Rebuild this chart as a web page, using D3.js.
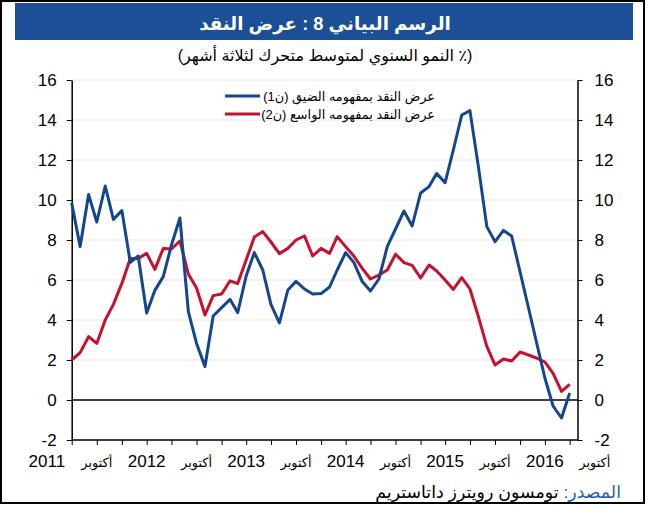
<!DOCTYPE html>
<html>
<head>
<meta charset="utf-8">
<script src="https://cdn.jsdelivr.net/npm/d3@7"></script>
<style>
  body { margin: 0; background: #fff; }
  text { font-family: "Liberation Sans", Arial, "DejaVu Sans", sans-serif; }
</style>
</head>
<body>
<div id="chart"></div>
<script>
// months Jul 2011 .. Jul 2016
const firstMonth = "2011-07";
const narrowMoney = [9.85, 7.67, 10.27, 8.9, 10.7, 9.03, 9.47, 6.88, 7.2, 4.35,
  5.48, 6.17, 7.75, 9.1, 4.42, 2.83, 1.67, 4.2, 4.62, 5.03,
  4.37, 6.2, 7.37, 6.5, 4.78, 3.85, 5.5, 5.93, 5.55, 5.3,
  5.32, 5.65, 6.5, 7.37, 6.88, 5.92, 5.45, 6.05, 7.68, 8.55,
  9.45, 8.7, 10.35, 10.67, 11.32, 10.87, 12.5, 14.25, 14.47, 11.67,
  8.67, 7.92, 8.48, 8.2, 6.4, 4.6, 2.9, 1.1, -0.3, -0.9, 0.35];
const broadMoney = [2.0, 2.37, 3.17, 2.83, 4.0, 4.78, 5.83, 7.08, 7.08, 7.33,
  6.53, 7.58, 7.55, 7.95, 6.3, 5.6, 4.25, 5.22, 5.3, 5.96,
  5.82, 7.0, 8.15, 8.42, 7.9, 7.32, 7.58, 8.0, 8.2, 7.2,
  7.58, 7.33, 8.17, 7.67, 7.2, 6.58, 6.05, 6.25, 6.5, 7.29,
  6.87, 6.73, 6.1, 6.75, 6.45, 6.0, 5.53, 6.12, 5.55, 4.17,
  2.68, 1.75, 2.05, 1.95, 2.4, 2.25, 2.1, 1.9, 1.33, 0.43, 0.78];
const seriesNames = ["عرض النقد بمفهومه الضيق (ن1)", "عرض النقد بمفهومه الواسع (ن2)"];
const xLabelMonths = ["2011-04", "2011-10", "2012-04", "2012-10", "2013-04", "2013-10",
  "2014-04", "2014-10", "2015-04", "2015-10", "2016-04", "2016-10"];
const xLabels = ["2011", "أكتوبر", "2012", "أكتوبر", "2013", "أكتوبر",
  "2014", "أكتوبر", "2015", "أكتوبر", "2016", "أكتوبر"];
const yTicks = [-2, 0, 2, 4, 6, 8, 10, 12, 14, 16];
const title = "الرسم البياني 8 : عرض النقد";
const subtitle = "(٪ النمو السنوي لمتوسط متحرك لثلاثة أشهر)";
const sourceLabel = "المصدر:";
const sourceText = "تومسون رويترز داتاستريم";

const width = 650, height = 505;
const plot = { left: 71.7, right: 577.5, top: 80, bottom: 440 };
const colors = { narrow: "#13468c", broad: "#c8102e", bar: "#1b5096" };

const parseMonth = d3.timeParse("%Y-%m");
const start = parseMonth(firstMonth);
const dates = narrowMoney.map((d, i) => d3.timeMonth.offset(start, i));

const x = d3.scaleTime()
  .domain([dates[0], dates[dates.length - 1]])
  .range([plot.left, 569.7]);
const y = d3.scaleLinear().domain([-2, 16]).range([plot.bottom, plot.top]);

const svg = d3.select("#chart").append("svg")
  .attr("width", width)
  .attr("height", height);

svg.append("rect").attr("width", width).attr("height", height).attr("fill", "#fff");

// fit a text element to a given width
function fitWidth(sel, w) {
  sel.each(function () {
    const len = this.getComputedTextLength();
    const fs = parseFloat(d3.select(this).attr("font-size"));
    d3.select(this).attr("font-size", fs * w / len);
  });
}

// title bar
svg.append("rect")
  .attr("x", 15).attr("y", 3)
  .attr("width", 618).attr("height", 37)
  .attr("fill", colors.bar);

svg.append("text")
  .attr("x", 325).attr("y", 30)
  .attr("text-anchor", "middle")
  .attr("direction", "rtl")
  .attr("font-size", 24)
  .attr("font-weight", "bold")
  .attr("fill", "#fff")
  .text(title)
  .call(fitWidth, 252);

svg.append("text")
  .attr("x", 325).attr("y", 61)
  .attr("text-anchor", "middle")
  .attr("direction", "rtl")
  .attr("font-size", 17)
  .attr("fill", "#000")
  .text(subtitle)
  .call(fitWidth, 295);

// grid
svg.append("g")
  .selectAll("line")
  .data(yTicks)
  .join("line")
  .attr("x1", plot.left).attr("x2", plot.right)
  .attr("y1", d => y(d)).attr("y2", d => y(d))
  .attr("stroke", d => (d === 0 || d === -2) ? "#000" : "#e6e6e6")
  .attr("stroke-width", d => (d === 0 || d === -2) ? 1.5 : 1);

// Y axes
const yLeft = svg.append("g")
  .attr("transform", `translate(${plot.left},0)`)
  .call(d3.axisLeft(y).tickValues(yTicks).tickFormat(d => String(d))
    .tickSize(5).tickSizeOuter(0).tickPadding(10));
const yRight = svg.append("g")
  .attr("transform", `translate(${plot.right},0)`)
  .call(d3.axisRight(y).tickValues(yTicks).tickFormat(d => String(d))
    .tickSize(5).tickSizeOuter(0).tickPadding(12));
[yLeft, yRight].forEach(g => {
  g.select(".domain").attr("stroke-width", 1.5);
  g.selectAll("text").attr("font-size", 17).attr("fill", "#000")
    .style("font-family", "'Liberation Sans', Arial, sans-serif");
});

// X axis (ticks every 3 months)
const xAxis = svg.append("g")
  .attr("transform", `translate(0,${plot.bottom})`)
  .call(d3.axisBottom(x).ticks(d3.timeMonth.every(3)).tickFormat("")
    .tickSize(5).tickSizeOuter(0));
xAxis.select(".domain").remove();

const labelDates = xLabelMonths.map(parseMonth);
svg.append("g")
  .selectAll("text")
  .data(xLabels)
  .join("text")
  .attr("x", (d, i) => x(labelDates[i]))
  .attr("y", 467)
  .attr("text-anchor", "middle")
  .attr("font-size", 17)
  .attr("fill", "#000")
  .text(d => d)
  .filter(d => isNaN(+d))
  .call(fitWidth, 31);

// lines
const line = d3.line()
  .x((d, i) => x(dates[i]))
  .y(d => y(d));

svg.append("path")
  .datum(broadMoney)
  .attr("fill", "none")
  .attr("stroke", colors.broad)
  .attr("stroke-width", 3)
  .attr("stroke-linejoin", "round")
  .attr("d", line);

svg.append("path")
  .datum(narrowMoney)
  .attr("fill", "none")
  .attr("stroke", colors.narrow)
  .attr("stroke-width", 3)
  .attr("stroke-linejoin", "round")
  .attr("d", line);

// legend
const legend = svg.append("g")
  .selectAll("g")
  .data(seriesNames)
  .join("g")
  .attr("transform", (d, i) => `translate(0,${96 + i * 18})`);
legend.append("line")
  .attr("x1", 225).attr("x2", 260)
  .attr("stroke", (d, i) => i === 0 ? colors.narrow : colors.broad)
  .attr("stroke-width", 3);
const legendText = legend.append("text")
  .attr("x", 435).attr("y", 5)
  .attr("direction", "rtl")
  .attr("text-anchor", "start")
  .attr("font-size", 14)
  .attr("fill", "#000")
  .text(d => d);
fitWidth(legendText.filter((d, i) => i === 0), 172);
legendText.attr("font-size", legendText.filter((d, i) => i === 0).attr("font-size"));

// source
const src = svg.append("text")
  .attr("x", 621).attr("y", 498)
  .attr("direction", "rtl")
  .attr("text-anchor", "start")
  .attr("font-size", 16);
src.append("tspan").attr("fill", "#1f5fa8").text(sourceLabel + " ");
src.append("tspan").attr("fill", "#000").text(sourceText);
fitWidth(src, 246);

// frame
svg.append("rect")
  .attr("x", 1).attr("y", 1)
  .attr("width", 643).attr("height", 502)
  .attr("fill", "none")
  .attr("stroke", "#000")
  .attr("stroke-width", 2);
</script>
</body>
</html>
